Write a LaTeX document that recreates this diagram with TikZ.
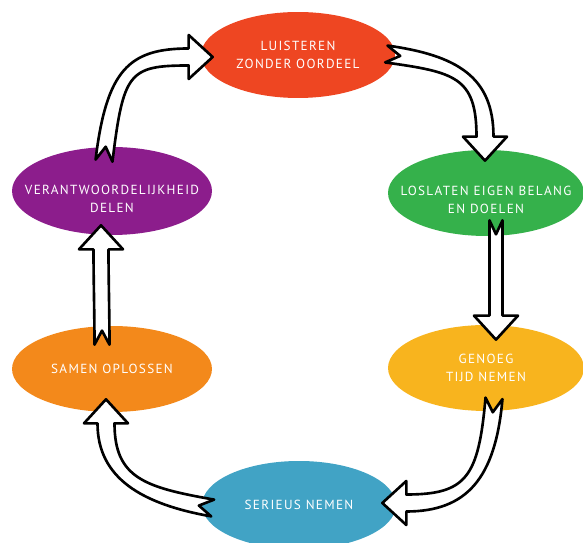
\documentclass[tikz,border=0pt]{standalone}
\usepackage{fontspec}
\newfontfamily\bolfont[LetterSpace=10]{PT Sans}
\usetikzlibrary{calc,shapes.geometric}

\definecolor{rood}{RGB}{238,70,34}
\definecolor{groen}{RGB}{53,177,75}
\definecolor{geel}{RGB}{248,180,30}
\definecolor{blauw}{RGB}{65,163,197}
\definecolor{oranje}{RGB}{243,137,27}
\definecolor{paars}{RGB}{140,29,140}

\tikzset{
  bol/.style={ellipse, draw=none, minimum width=3.9cm, minimum height=1.72cm},
  tekst/.style={text=white, align=center, font=\bolfont\fontsize{7.5}{10}\selectfont},
  pijl/.style={draw=black, fill=white, line width=1.5pt, line join=round},
}

% holle pijl: [halve breedte]{staart}{hoek staart}{c1}{c2}{hoek kop}{basis kop}
\newcommand{\holpijl}[7][8.5]{%
  \draw[pijl] ($(#2)+({#3+90}:#1)$) -- ($(#2)+(#3:14)$) -- ($(#2)+({#3-90}:#1)$)
    .. controls +(#3:#4) and +({#6+180}:#5) .. ($(#7)+({#6-90}:#1)$)
    -- ($(#7)+({#6-90}:22)$) -- ($(#7)+(#6:24)$) -- ($(#7)+({#6+90}:22)$)
    -- ($(#7)+({#6+90}:#1)$)
    .. controls +({#6+180}:#5) and +(#3:#4) .. ($(#2)+({#3+90}:#1)$) -- cycle;}

\begin{document}
\begin{tikzpicture}[x=0.02cm,y=-0.02cm]
    \useasboundingbox (0,0) rectangle (583,543);

    \node[bol, fill=rood, minimum width=3.88cm,
          label={[tekst]center:{LUISTEREN\\ZONDER OORDEEL}}] (luisteren) at (298,55) {};
    \node[bol, fill=groen, minimum width=3.92cm,
          label={[tekst, yshift=-0.14cm]center:{LOSLATEN EIGEN BELANG\\EN DOELEN}}] (loslaten) at (486,193) {};
    \node[bol, fill=geel, minimum width=3.92cm,
          label={[tekst]center:{GENOEG\\TIJD NEMEN}}] (genoeg) at (486,368) {};
    \node[bol, fill=blauw, minimum width=3.88cm, minimum height=1.76cm,
          label={[tekst]center:{SERIEUS NEMEN}}] (serieus) at (299,505) {};
    \node[bol, fill=oranje, minimum width=4cm,
          label={[tekst]center:{SAMEN OPLOSSEN}}] (samen) at (112,369) {};
    \node[bol, fill=paars, minimum width=4cm, minimum height=1.76cm,
          label={[tekst, yshift=-0.16cm]center:{VERANTWOORDELIJKHEID\\DELEN}}] (verantw) at (112,191) {};

    % staart en kop van elke pijl
    \coordinate (s1) at ($(verantw.north)+(-8,14)$);
    \coordinate (k1) at ($(luisteren.west)+(-12,2)$);
    \coordinate (s2) at ($(luisteren.east)+(-9,-1)$);
    \coordinate (k2) at ($(loslaten.north)+(-1,-13)$);
    \coordinate (s3) at ($(loslaten.south)+(10,-16)$);
    \coordinate (k3) at ($(genoeg.north)+(10,-9)$);
    \coordinate (s4) at ($(genoeg.south)+(8,-13)$);
    \coordinate (k4) at ($(serieus.east)+(10,-2)$);
    \coordinate (s5) at ($(serieus.west)+(11,3)$);
    \coordinate (k5) at ($(samen.south)+(-6,11)$);
    \coordinate (s6) at ($(samen.north)+(-10,19)$);
    \coordinate (k6) at ($(verantw.south)+(-11,14)$);

    \holpijl{s1}{277}{90}{60}{0}{k1}
    \holpijl{s2}{8}{70}{60}{90}{k2}
    \holpijl[6.5]{s3}{90}{30}{30}{90}{k3}
    \holpijl{s4}{95}{80}{60}{180}{k4}
    \holpijl{s5}{190}{70}{55}{270}{k5}
    \holpijl[7.5]{s6}{270}{30}{30}{270}{k6}

\end{tikzpicture}
\end{document}
